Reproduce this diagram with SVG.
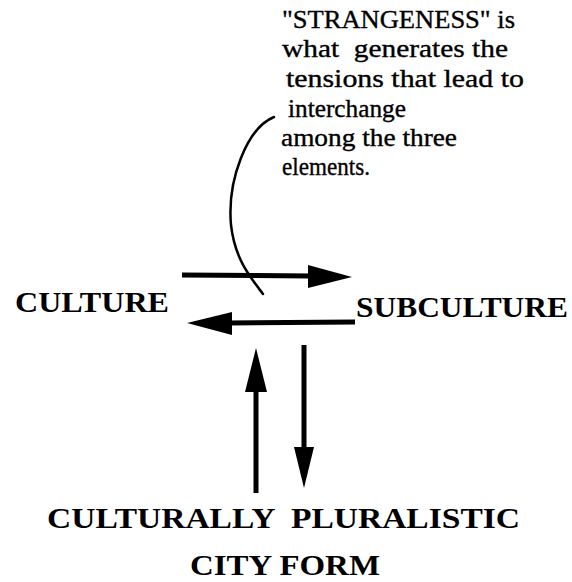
<svg xmlns="http://www.w3.org/2000/svg" width="572" height="582" viewBox="0 0 572 582">
<defs>
<style>
.note{font-family:"Liberation Serif","Times New Roman",serif;font-size:25px;fill:#000;stroke:#000;stroke-width:0.35;white-space:pre}
.lbl{font-family:"Liberation Serif","Times New Roman",serif;font-weight:bold;fill:#000;white-space:pre}
.shaft{stroke:#000;stroke-width:5;fill:none}
.head{fill:#000}
</style>
</defs>
<rect width="572" height="582" fill="#fff"/>
<g id="note">
<text class="note" x="282" y="28" textLength="233" lengthAdjust="spacingAndGlyphs">"STRANGENESS" is</text>
<text class="note" x="282" y="57" textLength="226" lengthAdjust="spacingAndGlyphs">what  generates the</text>
<text class="note" x="286" y="87" textLength="238" lengthAdjust="spacingAndGlyphs">tensions that lead to</text>
<text class="note" x="288" y="117" textLength="118" lengthAdjust="spacingAndGlyphs">interchange</text>
<text class="note" x="281" y="146" textLength="176" lengthAdjust="spacingAndGlyphs">among the three</text>
<text class="note" x="282" y="175" textLength="88" lengthAdjust="spacingAndGlyphs">elements.</text>
</g>
<g id="culture"><text class="lbl" x="15" y="312" font-size="29" textLength="154" lengthAdjust="spacingAndGlyphs">CULTURE</text></g>
<g id="subculture"><text class="lbl" x="356" y="317" font-size="30" textLength="212" lengthAdjust="spacingAndGlyphs">SUBCULTURE</text></g>
<g id="cityform">
<text class="lbl" x="47" y="528" font-size="30" textLength="473" lengthAdjust="spacingAndGlyphs">CULTURALLY  PLURALISTIC</text>
<text class="lbl" x="190" y="575" font-size="30" textLength="190" lengthAdjust="spacingAndGlyphs">CITY FORM</text>
</g>
<g id="connectors">
<path d="M274,117 C247,128 227,180 231,225 C235,260 251,278 263,294" stroke="#000" stroke-width="2.5" fill="none" stroke-linecap="round"/>
<line class="shaft" x1="182" y1="275" x2="312" y2="276"/>
<polygon class="head" points="352,277 308,265 308,288"/>
<line class="shaft" x1="355" y1="322" x2="228" y2="323"/>
<polygon class="head" points="187,323 232,312 232,335"/>
<line class="shaft" x1="256" y1="493" x2="256" y2="388"/>
<polygon class="head" points="256,348 245,392 267,392"/>
<line class="shaft" x1="304" y1="345" x2="304" y2="450"/>
<polygon class="head" points="304,488 294,447 314,447"/>
</g>
</svg>
